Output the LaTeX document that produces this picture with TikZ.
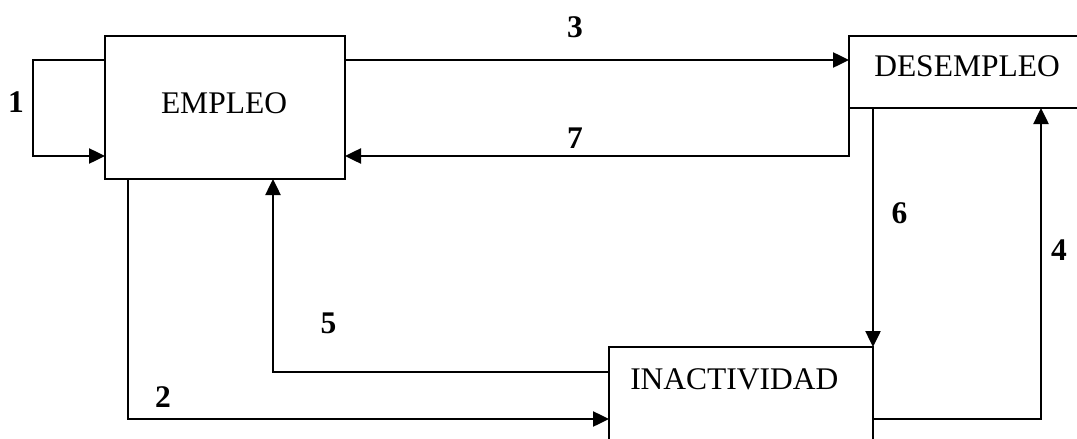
\documentclass[tikz,border=0pt]{standalone}
\usepackage{fontspec}
\setmainfont{Liberation Serif}
\usetikzlibrary{arrows.meta}
\begin{document}
\begin{tikzpicture}[x=1pt,y=-1pt,
  line width=2.5pt,
  statebox/.style={draw, rectangle, inner sep=0pt, outer sep=0pt},
  arr/.style={-{Triangle[length=16pt,width=15pt]}, line width=2.5pt},
  lbl/.style={anchor=base, inner sep=0pt, font=\fontsize{31.5}{38}\selectfont},
  num/.style={anchor=base, inner sep=0pt, font=\fontsize{31.5}{38}\selectfont\bfseries}]
\clip (0,0) rectangle (1077,439);
\fill[white] (0,0) rectangle (1077,439);

% boxes
\node[statebox, minimum width=240pt, minimum height=143pt] (emp) at (225,107.5) {};
\node[statebox, minimum width=246pt, minimum height=72pt]  (des) at (972,72) {};
\node[statebox, minimum width=264pt, minimum height=118pt] (ina) at (741,406) {};

% box texts
\node[lbl] (tEmp) at (224,113) {EMPLEO};
\node[lbl, anchor=base west] (tDes) at (873,76) {DESEMPLEO};
\node[lbl, anchor=base west] (tIna) at (629,389) {INACTIVIDAD};

% transitions
\draw[arr] ([yshift=-24pt]emp.north west) -- ++(-72,0) |- ([yshift=23pt]emp.south west);
\draw[arr] ([xshift=23pt]emp.south west) |- ([yshift=-72pt]ina.north west);
\draw[arr] ([yshift=-24pt]emp.north east) -- ([yshift=-24pt]des.north west);
\draw[arr] ([yshift=-72pt]ina.north east) -| ([xshift=192pt]des.south west);
\draw[arr] ([yshift=-25pt]ina.north west) -| ([xshift=168pt]emp.south west);
\draw[arr] ([xshift=24pt]des.south west) -- (ina.north east);
\draw[arr] (des.south west) -- ++(0,48) -- ([yshift=23pt]emp.south east);

% transition numbers
\node[num] (n1) at (16,112) {1};
\node[num] (n2) at (163,407) {2};
\node[num] (n3) at (575,37) {3};
\node[num] (n4) at (1059,260) {4};
\node[num] (n5) at (328.5,333) {5};
\node[num] (n6) at (899.5,223) {6};
\node[num] (n7) at (575,148) {7};
\end{tikzpicture}
\end{document}
